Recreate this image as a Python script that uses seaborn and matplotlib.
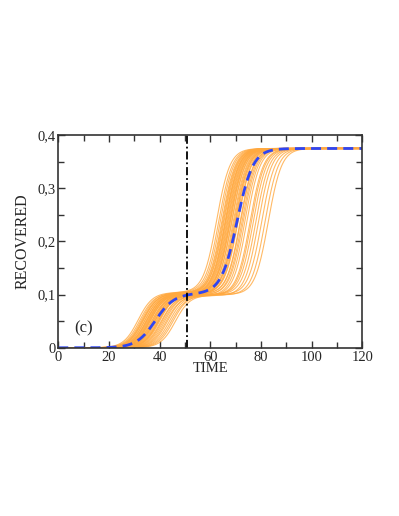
import numpy as np
import pandas as pd
import seaborn as sns
from matplotlib import pyplot as plt

# === DATA ===
# half-rise times of the two waves for each run
T_FIRST = [31.5, 32.2, 32.8, 33.1, 33.6, 34.0, 34.3, 34.7, 35.0, 35.2,
           35.6, 35.9, 36.2, 36.5, 36.8, 37.1, 37.4, 37.7, 38.0, 38.3,
           38.6, 39.0, 39.3, 39.7, 40.1, 40.5, 41.0, 41.4, 42.0, 42.5,
           43.1, 43.8, 44.5, 45.3, 46.2, 33.4, 34.9, 36.0, 37.9, 39.5]
T_SECOND = [62.5, 64.0, 63.4, 65.2, 64.6, 66.0, 65.5, 66.8, 65.9, 67.3,
            66.5, 68.0, 67.0, 68.6, 67.8, 69.1, 68.4, 70.0, 69.4, 71.0,
            70.3, 71.8, 72.5, 73.0, 70.8, 74.4, 72.0, 75.7, 77.0, 73.6,
            78.0, 76.2, 79.0, 80.3, 81.6, 64.9, 66.2, 69.8, 82.9, 67.6]
# level of the plateau between the two waves
H_FIRST = [0.104, 0.103, 0.104, 0.102, 0.103, 0.101, 0.104, 0.102, 0.103, 0.100,
           0.102, 0.104, 0.101, 0.103, 0.100, 0.102, 0.101, 0.103, 0.099, 0.102,
           0.100, 0.101, 0.099, 0.100, 0.102, 0.098, 0.101, 0.099, 0.100, 0.098,
           0.100, 0.099, 0.098, 0.100, 0.099, 0.103, 0.102, 0.101, 0.100, 0.101]
RATE_FIRST = 0.35
RATE_SECOND = 0.38
R_END = 0.375

# mean curve (blue dashed)
MEAN_T_FIRST = 38.3
MEAN_RATE_FIRST = 0.27
MEAN_H_FIRST = 0.102
MEAN_T_SECOND = 70.6
MEAN_RATE_SECOND = 0.32

T_LOCKDOWN = 51

X_TICKS = [0, 20, 40, 60, 80, 100, 120]
Y_TICKS = [0, 0.1, 0.2, 0.3, 0.4]
Y_LABELS = ['0', '0,1', '0,2', '0,3', '0,4']

time = np.arange(0, 120.25, 0.25)


# === FUNC ===

def wave(t, mid, rate):
    return 1 / (1 + np.exp(-rate * (t - mid)))


def recovered(t, t1, k1, h1, t2, k2):
    return h1 * wave(t, t1, k1) + (R_END - h1) * wave(t, t2, k2)


runs = []
for i, (t1, t2, h1) in enumerate(zip(T_FIRST, T_SECOND, H_FIRST)):
    runs.append(pd.DataFrame({
        'time': time,
        'recovered': recovered(time, t1, RATE_FIRST, h1, t2, RATE_SECOND),
        'run': i}))
runs = pd.concat(runs, ignore_index=True)

mean_curve = recovered(time, MEAN_T_FIRST, MEAN_RATE_FIRST, MEAN_H_FIRST,
                       MEAN_T_SECOND, MEAN_RATE_SECOND)

# === PLOT ===
sns.set_style('ticks')
plt.rcParams['font.family'] = ['Liberation Serif', 'DejaVu Serif']

fig = plt.figure(figsize=(3.99, 5.16), dpi=100)
ax = fig.add_axes([0.146, 0.326, 0.762, 0.412])

sns.lineplot(data=runs, x='time', y='recovered', units='run', estimator=None,
             color='#ffa940', lw=0.8, alpha=0.8, legend=False, ax=ax)
sns.lineplot(x=time, y=mean_curve, color='#2f45f2', lw=2.0, ax=ax)
ax.lines[-1].set_dashes([3.6, 2.2])

ax.axvline(T_LOCKDOWN, color='black', lw=1.3, dashes=[4.5, 1.6, 1.0, 1.6])

ax.text(10, 0.036, '(c)', fontsize=12, ha='center', va='center')

ax.set_xlim(0, 120)
ax.set_ylim(0, 0.4)
ax.set_xticks(X_TICKS)
ax.set_xticks(range(10, 120, 20), minor=True)
ax.set_yticks(Y_TICKS)
ax.set_yticklabels(Y_LABELS)
ax.set_yticks([0.05, 0.15, 0.25, 0.35], minor=True)
ax.tick_params(which='both', direction='in', top=True, right=True,
               labelsize=10.5, width=1.0, color='#333333', pad=2)
ax.tick_params(which='major', length=5)
ax.tick_params(which='minor', length=4)
for spine in ax.spines.values():
    spine.set_linewidth(1.2)
    spine.set_color('#333333')

ax.set_xlabel('TIME', fontsize=10.5, labelpad=-1)
ax.set_ylabel('RECOVERED', fontsize=11.5, labelpad=5)

plt.savefig('out.png', dpi=100)
